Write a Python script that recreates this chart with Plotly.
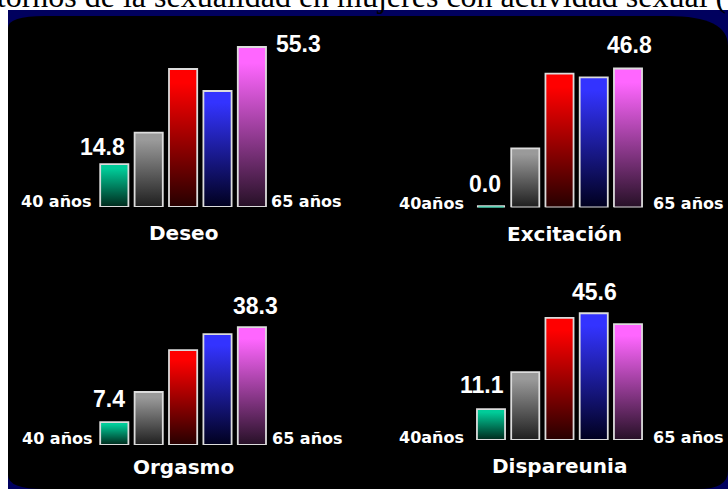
import plotly.graph_objects as go

# Canvas size in pixels
W, H = 728, 489

# ---- data -------------------------------------------------------------
panels = ["Deseo", "Excitación", "Orgasmo", "Dispareunia"]
deseo = [14.8, 25.7, 47.7, 40.1, 55.3]
excitacion = [0.0, 19.9, 45.1, 43.8, 46.8]
orgasmo = [7.4, 17.2, 30.8, 36.0, 38.3]
dispareunia = [11.1, 24.4, 43.9, 45.6, 41.7]
age_low = ["40 años", "40años", "40 años", "40años"]
age_high = ["65 años", "65 años", "65 años", "65 años"]
title_text = "Trastornos de la sexualidad en mujeres con actividad sexual (%)"

values = [deseo, excitacion, orgasmo, dispareunia]

# ---- styling ----------------------------------------------------------
bright = ["#00cc99", "#9a9a9a", "#ff0000", "#3333ff", "#ff66ff"]
dark = ["#00281b", "#1e1e1e", "#260000", "#00001e", "#261026"]
outline = "#dcdcdc"
navy = "#00005e"
half_w = 0.41

# pixel geometry of every small chart: first bar centre, bar pitch,
# baseline and pixels per percentage point
geom = [
    dict(c1=114.3, pitch=34.4, base=207.0, scale=2.893),
    dict(c1=491.0, pitch=34.25, base=207.5, scale=2.97),
    dict(c1=114.3, pitch=34.4, base=445.0, scale=3.08),
    dict(c1=491.0, pitch=34.25, base=440.0, scale=2.78),
]
# value label offsets (xanchor, xshift, yshift) for the first and the max bar
first_lab = [("right", -2, 17), ("right", -3, 24), ("right", -2, 23), ("right", 0, 24)]
max_lab = [("left", 9, 3), ("center", 1, 23), ("center", 4, 21), ("center", 1, 21)]
# age labels (gap to bars, vertical lift) and panel name offsets
age_gap = [(7, 4), (12, 10), (6, 5), (12, 10)]
age_lift = [5, 4, 7, 3]
name_off = [(0.5, -26), (4.5, -26), (0, -22), (0, -26)]

PANEL_H = 190  # plotting height (px) of every small chart


def fx(px):
    return px / W


def fy(py):
    return 1 - py / H


fig = go.Figure()
layout_axes = {}
annotations = []

for p, name in enumerate(panels):
    g = geom[p]
    ax_id = "" if p == 0 else str(p + 1)
    xa, ya = "x" + ax_id, "y" + ax_id
    x0 = g["c1"] - 0.5 * g["pitch"]
    x1 = g["c1"] + 4.5 * g["pitch"]
    layout_axes["xaxis" + ax_id] = dict(
        domain=[fx(x0), fx(x1)], range=[-0.5, 4.5], visible=False,
        fixedrange=True, anchor=ya,
    )
    layout_axes["yaxis" + ax_id] = dict(
        domain=[fy(g["base"]), fy(g["base"] - PANEL_H)],
        range=[0, PANEL_H / g["scale"]], visible=False, fixedrange=True,
        anchor=xa,
    )

    vals = values[p]
    for i, v in enumerate(vals):
        xs = [i - half_w, i + half_w, i + half_w, i - half_w, i - half_w]
        ys = [0, 0, v, v, 0]
        fig.add_trace(go.Scatter(
            x=xs, y=ys, xaxis=xa, yaxis=ya, mode="lines", fill="toself",
            fillgradient=dict(
                type="vertical",
                colorscale=[[0, dark[i]], [0.9, bright[i]], [1, bright[i]]],
            ),
            line=dict(color=outline, width=1.8 if v > 0 else 4.5),
            hoverinfo="skip", showlegend=False,
        ))
        if v == 0:
            # an empty bar still shows its colour as a thin strip
            fig.add_trace(go.Scatter(
                x=[i - half_w + 0.04, i + half_w - 0.04], y=[0, 0],
                xaxis=xa, yaxis=ya, mode="lines",
                line=dict(color=bright[i], width=2),
                hoverinfo="skip", showlegend=False,
            ))

    val_font = dict(family="Liberation Sans", size=23, color="white", weight="bold")
    # value of the first bar
    anc, dx, dy = first_lab[p]
    annotations.append(dict(
        x=0 + half_w, y=vals[0], xref=xa, yref=ya, text=f"{vals[0]:.1f}",
        showarrow=False, xanchor=anc, yanchor="middle", xshift=dx, yshift=dy,
        font=val_font, borderpad=0,
    ))
    # value of the highest bar
    imax = max(range(len(vals)), key=lambda k: vals[k])
    anc, dx, dy = max_lab[p]
    xpos = imax + half_w if anc == "left" else imax
    annotations.append(dict(
        x=xpos, y=vals[imax], xref=xa, yref=ya, text=f"{vals[imax]:.1f}",
        showarrow=False, xanchor=anc, yanchor="middle", xshift=dx, yshift=dy,
        font=val_font, borderpad=0,
    ))

    age_font = dict(family="DejaVu Sans", size=16, color="white", weight="bold")
    gl, gr = age_gap[p]
    annotations.append(dict(
        x=-half_w, y=0, xref=xa, yref=ya, text=age_low[p], showarrow=False,
        xanchor="right", yanchor="middle", xshift=-gl, yshift=age_lift[p],
        font=age_font, borderpad=0,
    ))
    annotations.append(dict(
        x=4 + half_w, y=0, xref=xa, yref=ya, text=age_high[p], showarrow=False,
        xanchor="left", yanchor="middle", xshift=gr, yshift=age_lift[p],
        font=age_font, borderpad=0,
    ))

    nx, ny = name_off[p]
    annotations.append(dict(
        x=2, y=0, xref=xa, yref=ya, text=name, showarrow=False,
        xanchor="center", yanchor="middle", xshift=nx, yshift=ny,
        font=dict(family="DejaVu Sans", size=20, color="white", weight="bold"),
        borderpad=0,
    ))

# slide heading, running off both edges of the page
annotations.append(dict(
    x=fx(-60), y=fy(-4), xref="paper", yref="paper", text=title_text,
    showarrow=False, xanchor="left", yanchor="middle",
    font=dict(family="Liberation Serif", size=32, color="black"), borderpad=0,
))

# dark slide panel: navy frame with a rounded black face
black_face = (
    f"M {fx(8)},{fy(28)} Q {fx(8)},{fy(16)} {fx(45)},{fy(16)} "
    f"L {fx(668)},{fy(16)} Q {fx(728)},{fy(16)} {fx(728)},{fy(46)} "
    f"L {fx(728)},{fy(471)} Q {fx(728)},{fy(489)} {fx(698)},{fy(489)} "
    f"L {fx(44)},{fy(489)} Q {fx(8)},{fy(489)} {fx(8)},{fy(475)} Z"
)
shapes = [
    dict(type="rect", xref="paper", yref="paper", x0=fx(8), x1=1, y0=0,
         y1=fy(10), fillcolor=navy, line=dict(width=0), layer="below"),
    dict(type="path", xref="paper", yref="paper", path=black_face,
         fillcolor="black", line=dict(width=0), layer="below"),
]

fig.update_layout(
    width=W, height=H, margin=dict(l=0, r=0, t=0, b=0),
    paper_bgcolor="white", plot_bgcolor="rgba(0,0,0,0)",
    annotations=annotations, shapes=shapes, showlegend=False,
    **layout_axes,
)

fig.write_html("out.html", config={"displayModeBar": False})
